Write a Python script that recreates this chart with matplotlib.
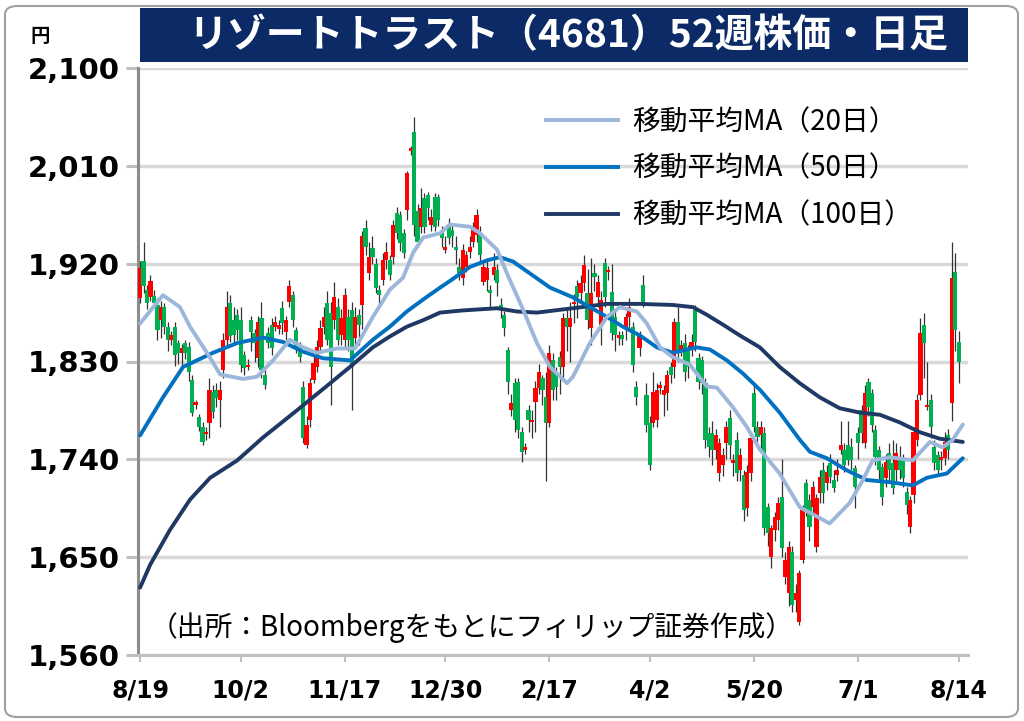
import numpy as np
import matplotlib
matplotlib.use("Agg")
import matplotlib.pyplot as plt
from matplotlib.patches import FancyBboxPatch, Rectangle
from matplotlib.lines import Line2D

plt.rcParams['font.family'] = ['Noto Sans CJK JP', 'DejaVu Sans']

# ---------------- data ----------------
opens = [1888,1922,1896,1889,1890,1882,1868,1880,1862,1850,1862,1847,1838,1847,1843,1813,1790,1779,1770,1763,
         1773,1802,1804,1795,1822,1850,1884,1868,1873,1868,1836,1825,1868,1856,1833,1870,1818,1856,1864,1862,
         1860,1879,1857,1885,1891,1859,1843,1807,1753,1776,1813,1825,1843,1862,1884,1875,1868,1880,1854,1850,
         1871,1877,1852,1873,1882,1953,1911,1934,1920,1896,1905,1923,1923,1926,1967,1965,1948,1969,2024,2041,
         1968,1954,1980,1983,1956,1981,1981,1949,1933,1956,1951,1935,1917,1907,1917,1931,1940,1946,1948,1903,
         1905,1896,1910,1914,1882,1873,1841,1785,1810,1811,1765,1749,1785,1774,1793,1806,1815,1797,1773,1831,
         1819,1834,1825,1870,1862,1883,1899,1893,1902,1893,1861,1911,1889,1864,1921,1912,1894,1871,1852,1854,
         1861,1871,1862,1807,1842,1900,1799,1773,1773,1776,1806,1799,1801,1825,1825,1866,1841,1847,1841,1842,
         1877,1833,1831,1810,1764,1764,1749,1727,1735,1755,1778,1737,1758,1730,1726,1695,1727,1801,1770,1762,
         1764,1696,1650,1675,1684,1705,1632,1617,1655,1611,1590,1647,1718,1703,1696,1659,1709,1730,1718,1737,
         1721,1726,1749,1749,1753,1751,1732,1764,1785,1755,1811,1801,1767,1749,1733,1723,1746,1737,1730,1739,
         1741,1710,1678,1707,1758,1799,1864,1788,1795,1751,1744,1739,1741,1762,1792,1912,1848]
highs = [1922,1940,1900,1910,1896,1888,1886,1884,1866,1858,1866,1850,1846,1850,1848,1818,1795,1782,1774,1770,
         1815,1808,1810,1812,1856,1895,1891,1880,1878,1880,1840,1832,1872,1860,1872,1885,1822,1862,1870,1872,
         1868,1886,1872,1905,1895,1862,1848,1812,1780,1815,1835,1850,1868,1880,1895,1885,1903,1888,1878,1898,
         1878,1885,1880,1878,1950,1960,1940,1945,1925,1900,1930,1940,1928,1960,1972,1968,1952,2005,2028,2055,
         1975,1990,1985,1986,1970,1985,1984,1955,1945,1962,1955,1945,1925,1938,1932,1945,1958,1970,1955,1922,
         1925,1900,1930,1920,1888,1876,1843,1800,1815,1815,1770,1755,1790,1785,1812,1828,1818,1820,1845,1838,
         1825,1840,1875,1880,1885,1892,1905,1910,1928,1915,1925,1920,1910,1895,1925,1918,1920,1878,1858,1858,
         1875,1888,1866,1812,1858,1910,1810,1780,1820,1810,1812,1808,1822,1830,1870,1880,1850,1855,1845,1855,
         1882,1838,1835,1815,1770,1775,1768,1760,1750,1775,1785,1745,1765,1750,1730,1735,1765,1810,1775,1775,
         1770,1700,1680,1692,1705,1740,1655,1665,1660,1625,1638,1698,1722,1708,1720,1708,1730,1738,1735,1745,
         1730,1740,1775,1755,1775,1760,1735,1770,1790,1808,1815,1805,1772,1752,1737,1745,1755,1758,1755,1752,
         1745,1715,1706,1770,1800,1870,1875,1830,1800,1758,1748,1748,1765,1768,1940,1930,1858]
lows = [1884,1893,1878,1886,1880,1850,1852,1855,1840,1845,1826,1828,1826,1832,1812,1780,1786,1766,1753,1758,
        1760,1778,1788,1770,1815,1845,1848,1845,1850,1820,1818,1822,1840,1830,1825,1815,1805,1842,1836,1858,
        1855,1855,1850,1880,1862,1838,1830,1755,1750,1770,1810,1820,1838,1855,1845,1790,1860,1845,1845,1842,
        1840,1785,1845,1845,1860,1928,1905,1920,1893,1880,1900,1915,1905,1920,1943,1932,1925,1960,2020,1945,
        1935,1948,1948,1960,1950,1950,1955,1935,1930,1938,1935,1920,1905,1900,1912,1925,1935,1940,1920,1900,
        1895,1878,1905,1890,1870,1853,1800,1780,1765,1760,1738,1745,1765,1760,1765,1800,1790,1720,1770,1795,
        1795,1800,1815,1840,1830,1865,1870,1885,1895,1860,1845,1895,1880,1845,1880,1905,1850,1840,1845,1845,
        1850,1860,1820,1790,1835,1880,1765,1730,1770,1770,1800,1780,1785,1810,1815,1830,1835,1812,1815,1835,
        1840,1805,1800,1750,1742,1735,1740,1720,1725,1740,1740,1725,1720,1720,1683,1688,1720,1765,1755,1750,
        1670,1660,1640,1665,1675,1650,1625,1605,1600,1600,1588,1645,1688,1665,1690,1655,1700,1700,1712,1718,
        1710,1720,1745,1728,1735,1730,1695,1740,1755,1750,1780,1765,1735,1722,1698,1715,1720,1708,1720,1722,
        1715,1690,1672,1700,1752,1795,1815,1785,1760,1730,1725,1730,1735,1740,1775,1840,1810]
closes = [1916,1899,1884,1904,1884,1859,1880,1862,1850,1854,1836,1838,1842,1838,1820,1783,1793,1770,1756,1765,
          1804,1784,1796,1804,1850,1880,1853,1854,1859,1827,1824,1827,1857,1847,1866,1822,1808,1847,1842,1866,
          1864,1865,1868,1899,1868,1843,1834,1760,1772,1810,1829,1843,1861,1871,1850,1825,1889,1850,1870,1891,
          1850,1825,1871,1864,1945,1935,1926,1926,1898,1891,1923,1931,1910,1956,1948,1939,1930,2003,2026,1956,
          1940,1971,1954,1971,1963,1954,1960,1944,1935,1944,1945,1933,1911,1933,1928,1935,1953,1965,1928,1917,
          1916,1893,1917,1902,1880,1861,1811,1792,1776,1767,1747,1751,1776,1776,1806,1820,1804,1773,1838,1804,
          1807,1825,1870,1862,1870,1885,1889,1902,1919,1868,1893,1908,1903,1887,1889,1914,1856,1854,1853,1851,
          1871,1880,1827,1797,1853,1885,1772,1735,1802,1804,1807,1804,1818,1818,1866,1839,1845,1820,1825,1848,
          1848,1811,1810,1758,1751,1749,1762,1755,1744,1770,1753,1739,1727,1744,1693,1728,1760,1770,1761,1770,
          1677,1672,1677,1687,1700,1658,1647,1659,1606,1617,1635,1693,1693,1678,1715,1704,1724,1709,1728,1724,
          1714,1730,1753,1735,1739,1739,1715,1755,1764,1801,1788,1772,1742,1730,1705,1738,1730,1714,1746,1730,
          1723,1698,1703,1765,1795,1856,1847,1790,1770,1737,1730,1742,1756,1749,1907,1859,1830]

tick_pos = [0, 29, 59, 88, 118, 147, 177, 207, 236]
tick_labels = ['8/19', '10/2', '11/17', '12/30', '2/17', '4/2', '5/20', '7/1', '8/14']

ma20_idx = [0,6.6,11.5,14.4,19.3,23.1,29.7,33.7,38.3,43.2,47,51,56.8,62,67.1,72,75.8,78.7,81.6,86.5,89.3,
            95.1,98,102.9,106.6,110.4,114.4,118.2,123.1,124.8,129.7,134.6,138.3,143.2,146.1,149.9,153.6,
            158.5,163.4,166.3,170.9,174.9,178.7,184.4,190.2,198.8,204.6,208.4,211.2,216.1,222.8,227.7,
            231.4,234.3,237.2]
ma20_val = [1865,1891,1880,1862,1838,1818,1814,1816,1831,1850,1843,1838,1842,1842,1871,1896,1907,1930,1944,
            1948,1956,1954,1948,1933,1905,1878,1847,1825,1810,1816,1847,1871,1880,1876,1865,1843,1834,1827,
            1807,1806,1788,1770,1749,1727,1696,1681,1700,1721,1739,1742,1739,1756,1751,1758,1772]

ma50_idx = [0,6.6,12.4,21,28,35.4,41.2,47,52.7,60.5,67.1,72,76.9,81.6,86.5,89.3,95.1,100,103.7,107.5,112.4,
            118.2,124.8,129.7,134.6,139.2,144.1,149,153.6,157.6,160.5,164.3,169.2,173.8,178.7,184.4,190.2,
            193.1,198,203.7,209.5,216.1,222.8,226.8,232.6,237.2]
ma50_val = [1762,1797,1825,1838,1847,1852,1848,1839,1833,1831,1850,1862,1876,1887,1898,1904,1917,1923,1926,
            1922,1911,1898,1889,1880,1871,1862,1854,1843,1838,1841,1843,1841,1831,1819,1804,1783,1758,1747,
            1741,1730,1721,1719,1716,1723,1727,1741]

ma100_idx = [0,2.9,8.6,14.4,20.2,28,35.4,45.2,54.8,60.5,67.1,72,76.9,81.6,86.5,93.1,102.9,108.6,114.4,124.8,
             134.6,144.1,153.6,159.4,163.4,168,172.9,178.7,184.4,190.2,196,201.7,207.5,213.3,219,224.8,
             230.5,237.2]
ma100_val = [1622,1643,1675,1703,1723,1739,1760,1785,1810,1825,1843,1853,1862,1868,1875,1877,1879,1876,1875,
             1879,1883,1883,1882,1880,1873,1864,1854,1843,1825,1810,1797,1787,1783,1781,1774,1765,1759,1756]

yticks = [1560, 1650, 1740, 1830, 1920, 2010, 2100]

title = "リゾートトラスト（4681）52週株価・日足"
source = "（出所：Bloombergをもとにフィリップ証券作成）"
legend_labels = ["移動平均MA（20日）", "移動平均MA（50日）", "移動平均MA（100日）"]

# ---------------- figure ----------------
W, H = 1024, 721
fig = plt.figure(figsize=(W / 100, H / 100), dpi=100)
fig.patch.set_facecolor('white')

border = FancyBboxPatch((5 / W, 4 / H), 1013 / W, 711 / H,
                        boxstyle="round,pad=0,rounding_size=0.012",
                        transform=fig.transFigure, facecolor='none',
                        edgecolor='#A0A0A0', linewidth=1.5)
fig.patches.append(border)

banner = Rectangle((140 / W, 1 - 62 / H), (968 - 140) / W, 54 / H,
                   transform=fig.transFigure, facecolor='#0B2A66', edgecolor='none')
fig.patches.append(banner)
fig.text(568 / W, 1 - 36 / H, title, color='white', fontsize=28, fontweight='bold',
         ha='center', va='center')
fig.text(40 / W, 1 - 36 / H, "円", color='black', fontsize=14, fontweight='bold',
         ha='center', va='center')

ax = fig.add_axes([138 / W, 1 - 655 / H, (968 - 138) / W, (655 - 68) / H])
ax.set_facecolor('white')

n = len(closes)
x = np.arange(n)
o = np.array(opens); h = np.array(highs); l = np.array(lows); c = np.array(closes)
up = c >= o
col = np.where(up, '#FF0000', '#00B050')

ax.vlines(x, l, h, color='#333333', linewidth=0.9, zorder=3)
body_bottom = np.minimum(o, c)
body_h = np.maximum(np.abs(c - o), 2.0)
ax.bar(x, body_h, bottom=body_bottom, width=1.2, color=col, edgecolor='none', zorder=4)

kw = dict(linewidth=2.8, solid_capstyle='round', solid_joinstyle='round')
ax.plot(ma100_idx, ma100_val, color='#1F3864', zorder=5, **kw)
ax.plot(ma50_idx, ma50_val, color='#0070C0', zorder=6, **kw)
ax.plot(ma20_idx, ma20_val, color='#9DB7DB', zorder=7, **kw)

ax.set_ylim(1560, 2100)
ax.set_xlim(-0.6, 238.7)
ax.set_yticks(yticks)
ax.set_yticklabels([f"{v:,}" for v in yticks])
ax.set_xticks(tick_pos)
ax.set_xticklabels(tick_labels)
ax.grid(axis='y', color='#D9D9D9', linewidth=2.5, zorder=0)
ax.set_axisbelow(True)

for s in ['top', 'right']:
    ax.spines[s].set_visible(False)
ax.spines['left'].set_color('#8C8C8C')
ax.spines['left'].set_linewidth(2.2)
ax.spines['bottom'].set_color('#BFBFBF')
ax.spines['bottom'].set_linewidth(2.2)

ax.tick_params(axis='y', length=9, width=2.2, color='#BFBFBF', pad=4, labelsize=21)
ax.tick_params(axis='x', length=5, width=1.5, color='#BFBFBF', pad=12, labelsize=17)
for t in ax.get_yticklabels() + ax.get_xticklabels():
    t.set_fontweight('bold')
    t.set_family(['DejaVu Sans'])

handles = [Line2D([], [], color='#9DB7DB', linewidth=2.8),
           Line2D([], [], color='#0070C0', linewidth=2.8),
           Line2D([], [], color='#1F3864', linewidth=2.8)]
leg = ax.legend(handles, legend_labels, loc='upper left',
                bbox_to_anchor=((521 - 138) / 830, 1 - (82 - 68) / 587),
                frameon=False, fontsize=20, handlelength=2.6, handletextpad=0.5,
                labelspacing=0.6, borderpad=0.4)

ax.text((150 - 138) / 830, 1 - (628 - 68) / 587, source, transform=ax.transAxes,
        fontsize=20, ha='left', va='center')

fig.savefig('out.png', dpi=100, facecolor='white')
